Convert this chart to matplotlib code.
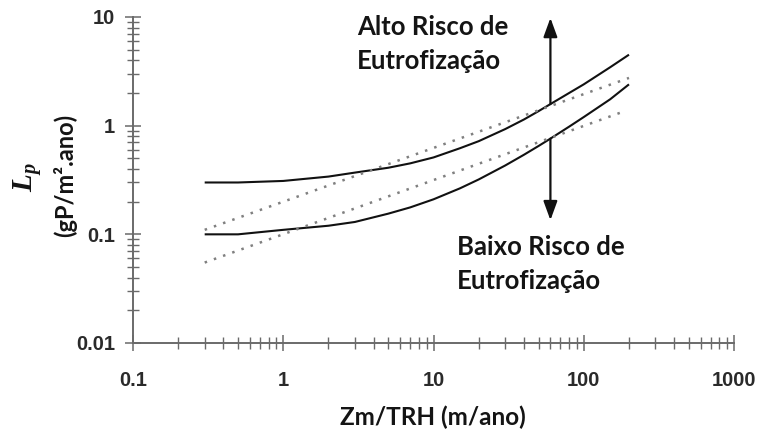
import matplotlib
matplotlib.use("Agg")
import matplotlib.pyplot as plt
from matplotlib.ticker import LogLocator, FixedLocator, FixedFormatter, NullFormatter

# ---------------- data ----------------
upper_x = [0.3, 0.5, 1, 2, 3, 5, 7, 10, 15, 20, 30, 40, 50, 60, 80, 100, 150, 200]
upper_y = [0.30, 0.30, 0.31, 0.34, 0.37, 0.41, 0.45, 0.51, 0.62, 0.72, 0.93, 1.14, 1.36, 1.58, 2.0, 2.4, 3.45, 4.5]
lower_x = [0.3, 0.5, 1, 2, 3, 5, 7, 10, 15, 20, 30, 40, 50, 60, 80, 100, 150, 200]
lower_y = [0.10, 0.10, 0.11, 0.12, 0.13, 0.155, 0.177, 0.21, 0.265, 0.32, 0.43, 0.54, 0.65, 0.76, 0.98, 1.2, 1.75, 2.4]
dot_upper_x = [0.3, 200]
dot_upper_y = [0.11, 2.75]
dot_lower_x = [0.3, 190]
dot_lower_y = [0.055, 1.37]
arrow_x = 60
arrow_up_tip = 9.8
arrow_down_tip = 0.135
xticks = [0.1, 1, 10, 100, 1000]
xticklabels = ["0.1", "1", "10", "100", "1000"]
yticks = [0.01, 0.1, 1, 10]
yticklabels = ["0.01", "0.1", "1", "10"]
txt_high = ["Alto Risco de", "Eutrofização"]
txt_low = ["Baixo Risco de", "Eutrofização"]
xlabel = "Zm/TRH (m/ano)"
ylabel_sym = r"$L_p$"
ylabel_unit = "(gP/m².ano)"

# ---------------- style ----------------
plt.rcParams["mathtext.fontset"] = "custom"
plt.rcParams["mathtext.it"] = "Liberation Serif:italic:bold"
plt.rcParams["mathtext.rm"] = "Liberation Serif:bold"

W, H = 766, 432
fig = plt.figure(figsize=(W / 100, H / 100), dpi=100)
ax = fig.add_axes([133 / W, 1 - 343 / H, (734 - 133) / W, (343 - 17) / H])
ax.set_xscale("log")
ax.set_yscale("log")
ax.set_xlim(xticks[0], xticks[-1])
ax.set_ylim(yticks[0], yticks[-1])

line_c = "#111111"
ax.plot(upper_x, upper_y, color=line_c, lw=1.5, solid_capstyle="butt")
ax.plot(lower_x, lower_y, color=line_c, lw=1.5, solid_capstyle="butt")
ax.plot(dot_upper_x, dot_upper_y, color="#808080", lw=1.8, dashes=(1, 2.9), dash_capstyle="butt")
ax.plot(dot_lower_x, dot_lower_y, color="#808080", lw=1.8, dashes=(1, 2.9), dash_capstyle="butt")

i_up = upper_x.index(arrow_x)
i_lo = lower_x.index(arrow_x)
ap = dict(arrowstyle="-|>,head_length=1.15,head_width=0.42", lw=1.6, color=line_c,
          mutation_scale=10, shrinkA=0, shrinkB=0)
ax.annotate("", xy=(arrow_x, arrow_up_tip), xytext=(arrow_x, upper_y[i_up]), arrowprops=ap)
ax.annotate("", xy=(arrow_x, arrow_down_tip), xytext=(arrow_x, lower_y[i_lo]), arrowprops=ap)

# spines & ticks
for s in ["top", "right"]:
    ax.spines[s].set_visible(False)
axis_c = "#6a6a6a"
for s in ["left", "bottom"]:
    ax.spines[s].set_color(axis_c)
    ax.spines[s].set_linewidth(1.4)

ax.xaxis.set_major_locator(FixedLocator(xticks))
ax.xaxis.set_major_formatter(FixedFormatter(xticklabels))
ax.yaxis.set_major_locator(FixedLocator(yticks))
ax.yaxis.set_major_formatter(FixedFormatter(yticklabels))
ax.xaxis.set_minor_locator(LogLocator(base=10, subs=range(2, 10)))
ax.yaxis.set_minor_locator(LogLocator(base=10, subs=range(2, 10)))
ax.xaxis.set_minor_formatter(NullFormatter())
ax.yaxis.set_minor_formatter(NullFormatter())

ax.tick_params(which="major", direction="inout", length=12, width=1.1, color=axis_c)
ax.tick_params(which="minor", direction="inout", length=9, width=1.0, color=axis_c)
ax.tick_params(axis="x", which="major", pad=14)
ax.tick_params(axis="y", which="major", pad=7)
for lab in ax.get_xticklabels() + ax.get_yticklabels():
    lab.set_fontfamily("Liberation Sans")
    lab.set_fontweight("bold")
    lab.set_fontsize(14.5)
    lab.set_color("#2a2a2a")

# texts (pixel positions)
def ftxt(x, y, s, **kw):
    fig.text(x / W, 1 - y / H, s, **kw)

ann = dict(family="Lato", weight="bold", size=18.5, color="#141414", va="baseline", ha="left")
ftxt(357, 35, txt_high[0], **ann)
ftxt(357, 69, txt_high[1], **ann)
ftxt(457, 255, txt_low[0], **ann)
ftxt(457, 289, txt_low[1], **ann)

ftxt(433, 425, xlabel, family="Lato", weight="bold", size=17.5, color="#141414",
     ha="center", va="baseline")
ftxt(65, 175, ylabel_unit, family="Lato", weight="bold", size=17, color="#141414",
     ha="center", va="center", rotation=90)
ftxt(27, 177, ylabel_sym, size=21, color="#141414", ha="center", va="center", rotation=90)

fig.savefig("out.png", dpi=100)
